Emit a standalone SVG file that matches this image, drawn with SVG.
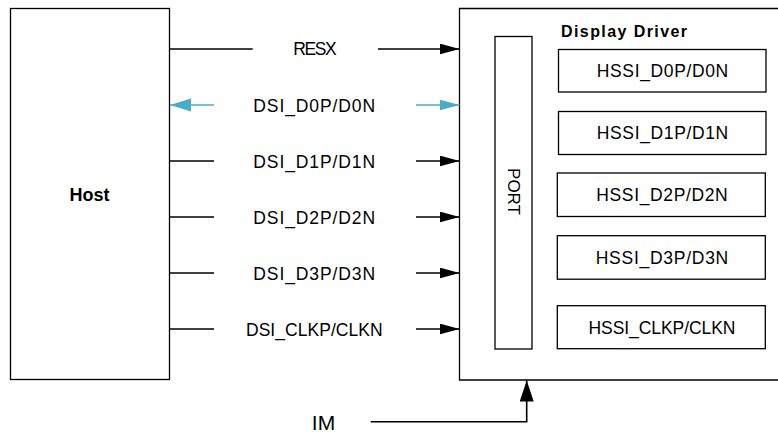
<svg xmlns="http://www.w3.org/2000/svg" width="778" height="434" viewBox="0 0 778 434">
<style>
.box{fill:#fff;stroke:#000;stroke-width:1.3}
.t{font-family:"Liberation Sans",Arial,sans-serif;font-size:17.5px;fill:#000;text-anchor:middle}
.b{font-family:"Liberation Sans",Arial,sans-serif;font-weight:bold;fill:#000}
.w{stroke:#000;stroke-width:1.6;fill:none}
.bl{stroke:#4BACC6;stroke-width:1.6;fill:none}
</style>
<defs>
<marker id="ak" markerUnits="userSpaceOnUse" markerWidth="20" markerHeight="12" refX="20" refY="5.5" orient="auto"><path d="M0,0 L20,5.5 L0,11 z" fill="#000"/></marker>
<marker id="ab" markerUnits="userSpaceOnUse" markerWidth="22" markerHeight="14" refX="21" refY="6.5" orient="auto"><path d="M0,0 L21,6.5 L0,13 z" fill="#4BACC6"/></marker>
<marker id="abr" markerUnits="userSpaceOnUse" markerWidth="20" markerHeight="12" refX="20" refY="5.5" orient="auto"><path d="M0,0 L20,5.5 L0,11 z" fill="#4BACC6"/></marker>
<marker id="aim" markerUnits="userSpaceOnUse" markerWidth="22" markerHeight="15" refX="21" refY="7" orient="auto"><path d="M0,0 L21,7 L0,14 z" fill="#000"/></marker>
</defs>
<g id="host">
<rect class="box" x="10.5" y="8.5" width="159" height="371"/>
<text class="b" x="89.5" y="200.5" font-size="18" text-anchor="middle">Host</text>
</g>
<g id="display-driver">
<path class="box" d="M780,8.5 H459.5 V380 H780"/>
<text class="b" x="561" y="36.5" style="font-size:16px" textLength="126" lengthAdjust="spacing">Display Driver</text>
</g>
<g id="port">
<rect class="box" x="495" y="36.5" width="37" height="312.5"/>
<text class="t" transform="translate(507.5,191.5) rotate(90)" style="font-size:17px">PORT</text>
</g>
<g id="hssi-d0">
<rect class="box" x="558.5" y="49.5" width="207.5" height="42.5"/>
<text class="t" x="662.5" y="77" textLength="131.5" lengthAdjust="spacing">HSSI_D0P/D0N</text>
</g>
<g id="hssi-d1">
<rect class="box" x="558.5" y="111.5" width="207.5" height="43"/>
<text class="t" x="662.5" y="139.3" textLength="131.5" lengthAdjust="spacing">HSSI_D1P/D1N</text>
</g>
<g id="hssi-d2">
<rect class="box" x="557.3" y="173" width="208" height="43.5"/>
<text class="t" x="662" y="201" textLength="131.5" lengthAdjust="spacing">HSSI_D2P/D2N</text>
</g>
<g id="hssi-d3">
<rect class="box" x="557.3" y="235.7" width="208" height="43.5"/>
<text class="t" x="662" y="264" textLength="132.5" lengthAdjust="spacing">HSSI_D3P/D3N</text>
</g>
<g id="hssi-clk">
<rect class="box" x="557.3" y="305.7" width="208" height="43"/>
<text class="t" x="662" y="333.5" textLength="147" lengthAdjust="spacing">HSSI_CLKP/CLKN</text>
</g>
<g id="connectors">
<line class="w" x1="169.5" y1="49" x2="252.7" y2="49"/>
<line class="w" x1="378" y1="49" x2="459.5" y2="49" marker-end="url(#ak)"/>
<line class="bl" x1="214" y1="105" x2="170" y2="105" marker-end="url(#ab)"/>
<line class="bl" x1="416" y1="105" x2="459.5" y2="105" marker-end="url(#abr)"/>
<line class="w" x1="169.5" y1="161" x2="214" y2="161"/>
<line class="w" x1="416" y1="161" x2="459.5" y2="161" marker-end="url(#ak)"/>
<line class="w" x1="169.5" y1="217" x2="214" y2="217"/>
<line class="w" x1="416" y1="217" x2="459.5" y2="217" marker-end="url(#ak)"/>
<line class="w" x1="169.5" y1="273" x2="214" y2="273"/>
<line class="w" x1="416" y1="273" x2="459.5" y2="273" marker-end="url(#ak)"/>
<line class="w" x1="169.5" y1="329" x2="214" y2="329"/>
<line class="w" x1="416" y1="329" x2="459.5" y2="329" marker-end="url(#ak)"/>
<polyline class="w" points="370.7,421.7 526.7,421.7 526.7,380.5" marker-end="url(#aim)"/>
</g>
<g id="labels">
<text class="t" x="315" y="55.3" textLength="43.3" lengthAdjust="spacing">RESX</text>
<text class="t" x="314.2" y="111.5" textLength="121.7" lengthAdjust="spacing">DSI_D0P/D0N</text>
<text class="t" x="314.2" y="167.5" textLength="121.7" lengthAdjust="spacing">DSI_D1P/D1N</text>
<text class="t" x="314.2" y="223.5" textLength="121.7" lengthAdjust="spacing">DSI_D2P/D2N</text>
<text class="t" x="314.2" y="279.5" textLength="121.7" lengthAdjust="spacing">DSI_D3P/D3N</text>
<text class="t" x="314.3" y="335.5" textLength="136.7" lengthAdjust="spacing">DSI_CLKP/CLKN</text>
<text class="t" x="323.5" y="429.5" style="font-size:21px">IM</text>
</g>
</svg>
